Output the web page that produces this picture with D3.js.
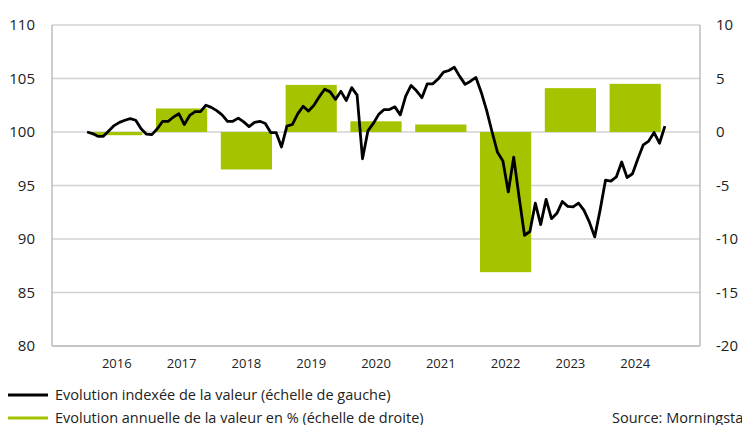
<!DOCTYPE html>
<meta charset="utf-8">
<head>
<style>
  body { margin: 0; background: #fff; }
  text { font-family: "Open Sans", sans-serif; fill: #222; }
</style>
</head>
<body>
<div id="chart"></div>
<script src="https://d3js.org/d3.v7.min.js"></script>
<script>
// yearly change in % (right axis)
var years = [2016, 2017, 2018, 2019, 2020, 2021, 2022, 2023, 2024];
var yearlyChange = [-0.3, 2.2, -3.5, 4.4, 1.0, 0.7, -13.1, 4.1, 4.5];

// monthly indexed value (left axis), Jan 2016 .. Dec 2024
var indexValues = [
  100.0, 99.85, 99.6, 99.6, 100.1, 100.6, 100.9, 101.1, 101.25, 101.1, 100.3, 99.8,
  99.75, 100.3, 101.0, 101.0, 101.4, 101.7, 100.7, 101.55, 101.9, 101.9, 102.5, 102.3,
  102.0, 101.6, 101.0, 101.0, 101.3, 100.95, 100.5, 100.9, 101.0, 100.8, 99.95, 99.95,
  98.6, 100.55, 100.7, 101.7, 102.4, 101.95, 102.5, 103.3, 104.0, 103.75, 103.05, 103.8,
  102.95, 104.15, 103.45, 97.5, 100.1, 100.8, 101.65, 102.1, 102.1, 102.35, 101.6, 103.35,
  104.35, 103.85, 103.2, 104.5, 104.5, 104.95, 105.6, 105.75, 106.05, 105.2, 104.45, 104.75,
  105.1, 103.7, 102.0, 100.0, 98.1, 97.3, 94.4, 97.65, 93.9, 90.35, 90.7, 93.35,
  91.35, 93.7, 91.9, 92.4, 93.5, 93.05, 93.0, 93.35, 92.7, 91.6, 90.2, 92.7,
  95.5, 95.4, 95.8, 97.2, 95.75, 96.1, 97.5, 98.8, 99.15, 99.95, 98.95, 100.55
];

var leftTicks = [80, 85, 90, 95, 100, 105, 110];
var rightTicks = [-20, -15, -10, -5, 0, 5, 10];

var legendLabels = [
  "Evolution indexée de la valeur (échelle de gauche)",
  "Evolution annuelle de la valeur en % (échelle de droite)"
];
var sourceText = "Source: Morningstar";

var green = "#a6c300";

var width = 742, height = 425;
var margin = {top: 25, right: 42, bottom: 79, left: 52};
var w = width - margin.left - margin.right,
    h = height - margin.top - margin.bottom;

var svg = d3.select("#chart").append("svg")
    .attr("width", width)
    .attr("height", height);

var g = svg.append("g")
    .attr("transform", "translate(" + margin.left + "," + margin.top + ")");

// x as continuous years, each year occupies one unit
var x = d3.scaleLinear().domain([2015.5, 2025.5]).range([0, w]);
var yL = d3.scaleLinear().domain([80, 110]).range([h, 0]);
var yR = d3.scaleLinear().domain([-20, 10]).range([h, 0]);

// gridlines
g.selectAll(".grid")
  .data(leftTicks)
  .enter().append("line")
    .attr("x1", 0).attr("x2", w)
    .attr("y1", function(d) { return yL(d); })
    .attr("y2", function(d) { return yL(d); })
    .attr("stroke", "#d2d2d2")
    .attr("stroke-width", 1.5);

// bars
var barW = 0.79;
g.selectAll(".bar")
  .data(years)
  .enter().append("rect")
    .attr("x", function(d) { return x(d + 0.5 - barW / 2); })
    .attr("width", function() { return x(2016 + barW) - x(2016); })
    .attr("y", function(d, i) { return yR(Math.max(0, yearlyChange[i])); })
    .attr("height", function(d, i) { return Math.abs(yR(yearlyChange[i]) - yR(0)); })
    .attr("fill", green);

// frame: left, right, bottom
g.append("line").attr("x1", 0).attr("x2", 0).attr("y1", 0).attr("y2", h)
  .attr("stroke", "#bdbdbd").attr("stroke-width", 1.5);
g.append("line").attr("x1", w).attr("x2", w).attr("y1", 0).attr("y2", h)
  .attr("stroke", "#bdbdbd").attr("stroke-width", 1.5);
g.append("line").attr("x1", 0).attr("x2", w).attr("y1", h).attr("y2", h)
  .attr("stroke", "#bdbdbd").attr("stroke-width", 1.5);

// line
var line = d3.line()
  .x(function(d, i) { return x(2016 + (i + 0.5) / 12); })
  .y(function(d) { return yL(d); });
g.append("path")
  .datum(indexValues)
  .attr("d", line)
  .attr("fill", "none")
  .attr("stroke", "#000")
  .attr("stroke-width", 2.8)
  .attr("stroke-linejoin", "round");

// left axis labels
g.selectAll(".lt")
  .data(leftTicks)
  .enter().append("text")
    .attr("x", -17)
    .attr("y", function(d) { return yL(d); })
    .attr("dy", "0.35em")
    .attr("text-anchor", "end")
    .style("font-size", "15px")
    .text(function(d) { return d; });

// right axis labels
g.selectAll(".rt")
  .data(rightTicks)
  .enter().append("text")
    .attr("x", w + 16)
    .attr("y", function(d) { return yR(d); })
    .attr("dy", "0.35em")
    .attr("text-anchor", "start")
    .style("font-size", "15px")
    .text(function(d) { return d; });

// year labels
g.selectAll(".yr")
  .data(years)
  .enter().append("text")
    .attr("x", function(d) { return x(d + 0.5); })
    .attr("y", h + 22)
    .attr("text-anchor", "middle")
    .style("font-size", "13px")
    .text(function(d) { return d; });

// legend
var legendColors = ["#000", green];
var leg = svg.selectAll(".leg")
  .data(legendLabels)
  .enter().append("g")
    .attr("transform", function(d, i) { return "translate(8," + (395 + i * 23) + ")"; });
leg.append("line")
  .attr("x1", 0).attr("x2", 40)
  .attr("stroke", function(d, i) { return legendColors[i]; })
  .attr("stroke-width", 3);
leg.append("text")
  .attr("x", 47)
  .attr("dy", "0.35em")
  .style("font-size", "14.5px")
  .text(function(d) { return d; });

svg.append("text")
  .attr("x", 612)
  .attr("y", 418)
  .attr("dy", "0.35em")
  .style("font-size", "14.5px")
  .text(sourceText);
</script>
</body>
